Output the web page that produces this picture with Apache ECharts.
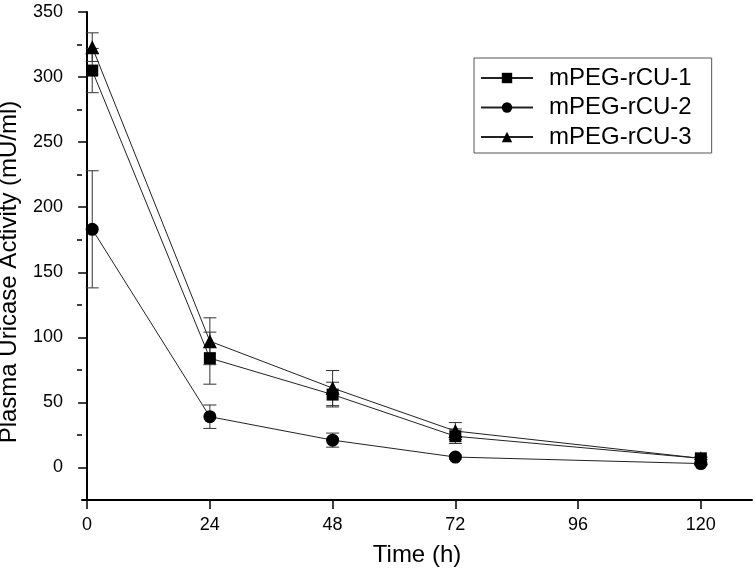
<!DOCTYPE html>
<html><head><meta charset="utf-8">
<script src="https://cdn.jsdelivr.net/npm/echarts@6/dist/echarts.min.js"></script>
<style>html,body{margin:0;padding:0;background:#fff}#c{width:756px;height:580px}</style>
</head><body><div id="c"></div>
<script>
const timePoints = [1, 24, 48, 72, 120];
const seriesNames = ['mPEG-rCU-1', 'mPEG-rCU-2', 'mPEG-rCU-3'];
const mean1 = [305, 84, 56, 24, 7];
const sd1 = [17, 20, 9.5, 5.6, 1];
const mean2 = [183, 39, 21, 8, 3];
const sd2 = [45, 9, 5.4, 1.5, 1];
const mean3 = [323, 97, 61, 28, 7];
const sd3 = [11, 18, 13.5, 6.5, 1];
const xTicks = [0, 24, 48, 72, 96, 120];
const yTicks = [0, 50, 100, 150, 200, 250, 300, 350];
const yMinorTicks = [25, 75, 125, 175, 225, 275, 325];

const FONT = '"Liberation Sans", Arial, sans-serif';

function errSeries(means, sds) {
  return {
    type: 'custom',
    data: timePoints.map((t, i) => [t, means[i] - sds[i], means[i] + sds[i]]),
    encode: { x: 0, y: [1, 2] },
    silent: true,
    z: 1,
    renderItem(params, api) {
      const x = api.value(0);
      const lo = api.coord([x, api.value(1)]);
      const hi = api.coord([x, api.value(2)]);
      const w = 6.5;
      const st = { stroke: '#333', lineWidth: 1 };
      return {
        type: 'group',
        children: [
          { type: 'line', shape: { x1: lo[0], y1: lo[1], x2: hi[0], y2: hi[1] }, style: st },
          { type: 'line', shape: { x1: lo[0] - w, y1: lo[1], x2: lo[0] + w, y2: lo[1] }, style: st },
          { type: 'line', shape: { x1: hi[0] - w, y1: hi[1], x2: hi[0] + w, y2: hi[1] }, style: st }
        ]
      };
    }
  };
}

function lineSeries(name, means, symbol, size) {
  return {
    type: 'line',
    name: name,
    data: timePoints.map((t, i) => [t, means[i]]),
    symbol: symbol,
    symbolSize: size,
    showAllSymbol: true,
    itemStyle: { color: '#000' },
    lineStyle: { color: '#222', width: 1 },
    z: 3
  };
}

const chart = echarts.init(document.getElementById('c'), null, { renderer: 'canvas' });
chart.setOption({
  animation: false,
  backgroundColor: '#fff',
  grid: { left: 82, right: 4, top: 12, bottom: 80, outerBoundsMode: 'none' },
  legend: {
    orient: 'vertical',
    left: 474,
    top: 58,
    data: seriesNames,
    itemWidth: 52,
    itemHeight: 13,
    itemGap: 5.5,
    padding: [8, 20, 4, 6],
    borderColor: '#555',
    borderWidth: 1,
    textStyle: { fontFamily: FONT, fontSize: 24, color: '#000', lineHeight: 24, padding: [0, 0, 0, 11] }
  },
  xAxis: {
    type: 'value',
    min: -1,
    max: 130,
    name: 'Time (h)',
    nameLocation: 'middle',
    nameGap: 43,
    nameTextStyle: { fontFamily: FONT, fontSize: 24, color: '#000' },
    axisLine: { onZero: false, lineStyle: { color: '#000', width: 2 } },
    axisTick: { show: true, length: 9, lineStyle: { color: '#000', width: 1.5 }, customValues: xTicks },
    axisLabel: { fontFamily: FONT, fontSize: 18, color: '#000', margin: 16, customValues: xTicks },
    splitLine: { show: false }
  },
  yAxis: [{
    type: 'value',
    min: -25,
    max: 350,
    name: 'Plasma Uricase Activity (mU/ml)',
    nameLocation: 'middle',
    nameGap: 61,
    nameTextStyle: { fontFamily: FONT, fontSize: 24, color: '#000', padding: [0, 32, 0, 0] },
    axisLine: { onZero: true, lineStyle: { color: '#000', width: 2 } },
    axisTick: { show: true, length: 9, lineStyle: { color: '#000', width: 1.5 }, customValues: yTicks },
    axisLabel: { fontFamily: FONT, fontSize: 18, color: '#000', margin: 19, customValues: yTicks },
    splitLine: { show: false }
  }, {
    type: 'value',
    min: -25,
    max: 350,
    position: 'left',
    axisLine: { show: false, onZero: true },
    axisTick: { show: true, length: 5, lineStyle: { color: '#000', width: 1.5 }, customValues: yMinorTicks },
    axisLabel: { show: false },
    splitLine: { show: false }
  }],
  series: [
    errSeries(mean1, sd1),
    errSeries(mean2, sd2),
    errSeries(mean3, sd3),
    lineSeries(seriesNames[0], mean1, 'rect', 12),
    lineSeries(seriesNames[1], mean2, 'circle', 13),
    lineSeries(seriesNames[2], mean3, 'triangle', 14)
  ]
});
</script>
</body></html>
